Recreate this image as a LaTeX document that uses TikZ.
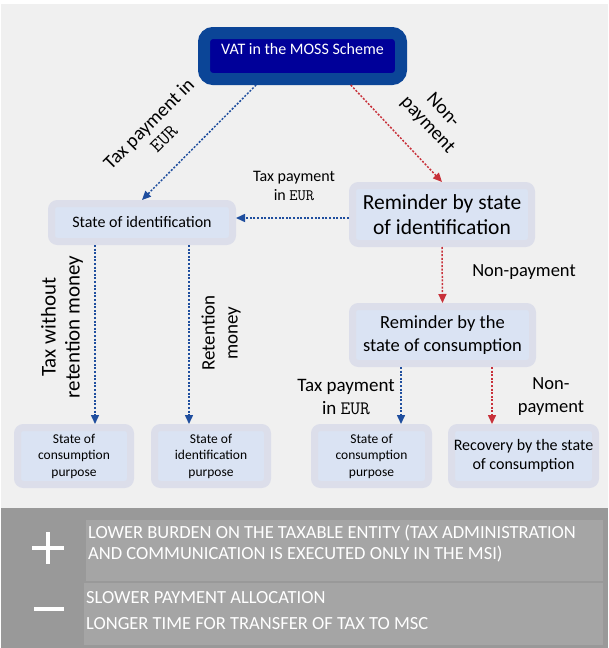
\documentclass[tikz,border=0pt]{standalone}
\usepackage{fontspec}
\setmainfont{Carlito}
\usetikzlibrary{arrows.meta}
\definecolor{bgpage}{HTML}{F0F0F0}
\definecolor{boxout}{HTML}{DCDEEA}
\definecolor{boxin}{HTML}{DAE3F3}
\definecolor{mossout}{HTML}{0B4597}
\definecolor{mossin}{HTML}{000099}
\definecolor{payblue}{HTML}{1F4E9E}
\definecolor{dunred}{HTML}{C8313A}
\definecolor{panel}{HTML}{999999}
\definecolor{panelin}{HTML}{A5A5A5}
\begin{document}
\begin{tikzpicture}[x=1pt,y=-1pt,>={Triangle[length=9pt,width=8pt]},
	box/.style={draw=boxout,fill=boxin,line width=7pt,rounded corners=6pt,outer sep=3.5pt,inner sep=0pt,align=center},
	payline/.style={->,payblue,line width=1.5pt,dash pattern=on 2pt off 1.6pt},
	dunline/.style={->,dunred,line width=1.5pt,dash pattern=on 2pt off 1.6pt},
	lbl/.style={align=center,inner sep=0pt}]
				\useasboundingbox (0,0) rectangle (608,648);
				\fill[white] (0,0) rectangle (608,648);
				\fill[bgpage] (1,4) rectangle (608,508);
				\fill[panel] (1,508) rectangle (608,648);
				\fill[panelin] (86,520) rectangle (603,581);
				\fill[panelin] (84,583) rectangle (603,645);
				\node (moss) [draw=mossout,fill=mossin,line width=12pt,rounded corners=9pt,outer sep=6pt,minimum width=197pt,minimum height=46pt,text=white,font=\fontsize{16}{19}\selectfont,text height=11.5pt,text depth=15pt] at (302.5,56) {VAT in the MOSS Scheme};
				\node (soi) [box,minimum width=181pt,minimum height=38pt,font=\fontsize{16}{19}\selectfont] at (142,222.5) {State of identification};
				\node (rsi) [box,minimum width=179pt,minimum height=58pt,font=\fontsize{21.5}{25}\selectfont] at (442,214.5) {Reminder by state\\of identification};
				\node (rsc) [box,minimum width=180pt,minimum height=57pt,font=\fontsize{18.5}{22.5}\selectfont] at (442.5,335) {Reminder by the\\state of consumption};
				\node (bxa) [box,minimum width=113pt,minimum height=57pt,font=\fontsize{13.5}{16.5}\selectfont] at (74,456) {State of\\consumption\\purpose};
				\node (bxb) [box,minimum width=113pt,minimum height=57pt,font=\fontsize{13.5}{16.5}\selectfont] at (211,456) {State of\\identification\\purpose};
				\node (bxc) [box,minimum width=114pt,minimum height=57pt,font=\fontsize{13.5}{16.5}\selectfont] at (371.5,456) {State of\\consumption\\purpose};
				\node (bxd) [box,minimum width=144pt,minimum height=57pt,font=\fontsize{16}{19}\selectfont] at (523.5,456) {Recovery by the state\\of consumption};
				\draw[payline] (moss.212.5) -- (soi.north);
				\draw[dunline] (moss.329.6) -- (rsi.north);
				\draw[payline] (rsi.west |- 0,218) -- (soi.east |- 0,218);
				\draw[dunline] (rsi.south) -- (rsc.north);
				\draw[payline] (soi.south -| 95,0) -- (bxa.north -| 95,0);
				\draw[payline] (soi.south -| 189,0) -- (bxb.north -| 189,0);
				\draw[payline] (rsc.south -| 401,0) -- (bxc.north -| 401,0);
				\draw[dunline] (rsc.south -| 492,0) -- (bxd.north -| 492,0);
				\node (lpay) [lbl,rotate=45,font=\fontsize{19.5}{21}\selectfont] at (156,131) {Tax payment in\\\texttt{EUR}};
				\node (lnon) [lbl,rotate=-47,font=\fontsize{19.5}{21}\selectfont] at (435,118) {Non-\\payment};
				\node (lpaymid) [lbl,font=\fontsize{16}{19}\selectfont] at (294,186) {Tax payment\\in \texttt{EUR}};
				\node (lnonmid) [lbl,font=\fontsize{18.5}{20}\selectfont] at (524,272) {Non-payment};
				\node (lretleft) [lbl,rotate=90,font=\fontsize{21}{24}\selectfont] at (62,327) {Tax without\\retention money};
				\node (lretright) [lbl,rotate=90,font=\fontsize{19}{23}\selectfont] at (221,333) {Retention\\money};
				\node (lpaylow) [lbl,font=\fontsize{19}{23}\selectfont] at (346,397) {Tax payment\\in \texttt{EUR}};
				\node (lnonlow) [lbl,font=\fontsize{18.5}{23}\selectfont] at (551,397) {Non-\\payment};
				\draw[white,line width=4.5pt] (32,548) -- (64,548) (48,532) -- (48,564);
				\draw[white,line width=4.5pt] (34,609) -- (64,609);
				\node (pro) [anchor=west,align=left,inner sep=0pt,text=white,font=\fontsize{18.5}{21}\selectfont] at (88,544) {LOWER BURDEN ON THE TAXABLE ENTITY (TAX ADMINISTRATION\\AND COMMUNICATION IS EXECUTED ONLY IN THE MSI)};
				\node (con) [anchor=west,align=left,inner sep=0pt,text=white,font=\fontsize{18.5}{26}\selectfont] at (86,611) {SLOWER PAYMENT ALLOCATION\\LONGER TIME FOR TRANSFER OF TAX TO MSC};
\end{tikzpicture}
\end{document}
